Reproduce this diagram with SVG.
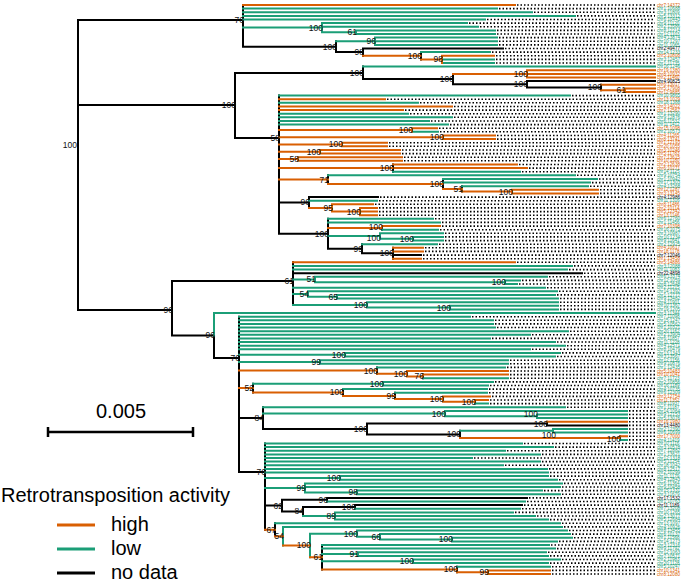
<svg xmlns="http://www.w3.org/2000/svg" width="685" height="582" viewBox="0 0 685 582">
<style>
.t path{fill:none;stroke-width:2;stroke-linecap:square}
.o{stroke:#D95F02}.g{stroke:#1B9E77}.k{stroke:#000}
.d{fill:none;stroke:#000;stroke-width:1.6;stroke-dasharray:1.5 2}
.bs{font-family:"Liberation Sans",Arial,sans-serif;font-size:8.5px;fill:#111;text-anchor:end}
.tip{font-family:"Liberation Sans",Arial,sans-serif;font-size:4.6px}
.lg{font-family:"Liberation Sans",Arial,sans-serif;font-size:20px;fill:#000}
</style>
<rect width="685" height="582" fill="#fff"/>
<g id="leaders">
<path class="d" d="M517 5H655M499 8.6H655M534 12.2H655M577 15.9H655M487 19.5H655M469 23.1H655M480 26.7H655M497 30.4H655M497 34H655M499 37.6H655M499 41.2H655M499 44.9H655M505 48.5H655M492 52.1H655M496 55.7H655M496 59.4H655M496 63H655"/>
<path class="d" d="M572 95.6H655M387 99.2H655M420 102.8H655M454 106.5H655M405 110.1H655M410 113.7H655M454 117.3H655M431 121H655M450 124.6H655M439 128.2H655M440 131.8H655M497 135.5H655M497 139.1H655M389 142.7H655M389 146.3H655M402 150H655M402 153.6H655M404 157.2H655M404 160.8H655M519 164.5H655M529 168.1H655M522 171.7H655M577 175.3H655M599 179H655M592 182.6H655M590 186.2H655M600 189.8H655M600 193.4H655M380 197.1H655M379 200.7H655M375 204.3H655M379 207.9H655M379 211.6H655M379 215.2H655M435 218.8H655M442 222.4H655M442 226.1H655M440 229.7H655M445 233.3H655M445 236.9H655M445 240.6H655M439 244.2H655M425 247.8H655M425 251.4H655M423 255.1H655M423 258.7H655"/>
<path class="d" d="M517 262.3H655M574 265.9H655M569 269.6H655M584 273.2H655M549 276.8H655M522 280.4H655M519 284H655M547 287.7H655M559 291.3H655M557 294.9H655M560 298.5H655M560 302.2H655M560 305.8H655M560 309.4H655"/>
<path class="d" d="M472 316.7H655M495 320.3H655M495 323.9H655M497 327.5H655M570 331.2H655M532 334.8H655M492 338.4H655M557 342H655M567 345.7H655M532 349.3H655M562 352.9H655M557 356.5H655M510 360.2H655M510 363.8H655M507 367.4H655M510 371H655M510 374.6H655M510 378.3H655M495 381.9H655M490 385.5H655M489 389.1H655M489 392.8H655M492 396.4H655M490 400H655M490 403.6H655M567 407.3H655M629 410.9H655M629 414.5H655M629 418.1H655M629 421.8H655M629 425.4H655M629 429H655M629 432.6H655M629 436.3H655M629 439.9H655"/>
<path class="d" d="M524 443.5H655M555 447.1H655M507 450.8H655M542 454.4H655M474 458H655M542 461.6H655M505 465.3H655M549 468.9H655M550 472.5H655M550 476.1H655M559 479.8H655M564 483.4H655M562 487H655M544 490.6H655M562 494.2H655M529 497.9H655M527 501.5H655M524 505.1H655M522 508.7H655M515 512.4H655M537 516H655M550 519.6H655M562 523.2H655M564 526.9H655M569 530.5H655M572 534.1H655M574 537.7H655M559 541.4H655M551 545H655M557 548.6H655M548 552.2H655M550 555.9H655M562 559.5H655M550 563.1H655M552 566.7H655M552 570.4H655M552 574H655"/>
</g>
<g id="connectors" class="t">
<g id="root">
<path class="k" d="M78 20V310M78 20H243M78 105H235M78 310H172"/>
</g>
<g id="clade-top">
<path class="k" d="M243 5V46.7M243 46.7H336M336 41.2V52.1M336 52.1H363M363 48.5V55.7M363 48.5H503M421 52.1V59.4"/>
<path class="g" d="M243 8.6H497M243 12.2H532M243 15.9H575M243 19.5H485M243 27.6H322M322 23.1V32.2M322 23.1H467M322 26.7H478M322 32.2H356M356 30.4V34M356 30.4H495M356 34H495M336 41.2H375M375 37.6V44.9M375 37.6H497M375 41.2H497M375 44.9H497M421 52.1H490M442 59.4H494M442 63H494"/>
<path class="o" d="M243 5H515M363 55.7H421M421 59.4H442M442 55.7V63M442 55.7H494"/>
</g>
<g id="clade-middle">
<path class="k" d="M235 72.9V138M235 72.9H363M363 66.6V79.1M363 79.1H453M453 73.9V84.3M453 84.3H527M527 81.1V87.5M527 81.1H655M527 87.5H601M601 84.7V90.2"/>
<path class="g" d="M363 66.6H655"/>
<path class="o" d="M453 73.9H527M527 70.2V77.5M527 70.2H655M527 73.9H655M527 77.5H655M601 84.7H655M601 90.2H625M625 88.4V92M625 88.4H655M625 92H655"/>
</g>
<g id="clade-58">
<path class="k" d="M235 138H279M279 95.6V233.8M393 164.5V171.7M328 175.3V184M443 179V188.9M462 186.2V191.6M279 202.5H309M309 197.1V208M309 197.1H378M279 233.8H328M328 218.8V248.7M382 226.1V229.7M328 248.7H362M362 244.2V253.3M362 253.3H393M393 247.8V258.7M393 255.1H421"/>
<path class="g" d="M279 95.6H570M279 102.8H418M279 113.7H408M279 117.3H452M279 121H429M279 124.6H448M412 131.8H438M393 171.7H520M328 175.3H575M443 179H597M443 182.6H590M462 186.2H588M309 200.7H377M328 218.8H433M328 222.4H440M382 229.7H438M328 236H380M380 233.3V238.7M380 233.3H443M380 238.7H413M413 236.9V240.6M413 236.9H443M413 240.6H443M362 244.2H437"/>
<path class="o" d="M279 99.2H385M279 106.5H452M279 110.1H403M279 130H412M412 128.2V131.8M412 128.2H437M279 137.3H443M443 135.5V139.1M443 135.5H495M443 139.1H495M279 144.5H342M342 142.7V146.3M342 142.7H387M342 146.3H387M279 151.8H320M320 150V153.6M320 150H400M320 153.6H400M279 159H298M298 157.2V160.8M298 157.2H402M298 160.8H402M279 168.1H393M393 164.5H517M393 168.1H527M279 179.6H328M328 184H443M443 188.9H462M462 191.6H512M512 189.8V193.4M512 189.8H598M512 193.4H598M309 208H332M332 204.3V211.6M332 204.3H373M332 211.6H360M360 207.9V215.2M360 207.9H377M360 211.6H377M360 215.2H377M328 227.9H382M382 226.1H440M393 247.8H423M393 251.4H423M393 258.7H421"/>
</g>
<g id="clade-61">
<path class="k" d="M172 281V335.5M172 281H293M293 262.3V304.9M293 273.2H582M172 335.5H214M214 335.5V358"/>
<path class="g" d="M293 265.9H572M293 269.6H567M293 279.5H315M315 276.8V282.2M315 276.8H547M315 282.2H505M505 280.4V284M505 280.4H520M505 284H517M293 287.7H545M293 294H308M308 291.3V296.7M308 291.3H557M308 296.7H337M337 294.9V298.5M337 294.9H555M337 298.5H558M293 304.9H367M367 302.2V307.6M367 302.2H558M367 307.6H450M450 305.8V309.4M450 305.8H558M450 309.4H558M214 313V335.5M214 313H655"/>
<path class="o" d="M293 262.3H515"/>
</g>
<g id="clade-76a">
<path class="k" d="M214 358H239M239 316.7V472M377 367.4V373.7M423 374.6V378.3M253 383.7V392.5M343 389.1V396M395 392.8V399.1M475 400V403.6M239 418H263M263 407.3V429M263 429H367M367 423.6V434.5M367 423.6H547M547 421.8V425.4M547 425.4H627M367 434.5H460M460 430.8V438.1M620 436.3V439.9"/>
<path class="g" d="M239 316.7H470M239 320.3H493M239 323.9H493M239 327.5H495M239 331.2H568M239 334.8H530M239 338.4H490M239 342H555M239 345.7H565M239 349.3H530M239 354.7H345M345 352.9V356.5M345 352.9H560M345 356.5H555M239 362H320M320 360.2V363.8M320 360.2H508M320 363.8H508M377 367.4H505M423 378.3H508M253 383.7H383M383 381.9V385.5M383 381.9H493M383 385.5H488M343 389.1H487M395 392.8H487M475 403.6H488M263 407.3H565M263 413.6H445M445 410.9V416.3M445 410.9H627M445 416.3H537M537 414.5V418.1M537 414.5H627M537 418.1H627M460 430.8H553M553 429V432.6M553 429H627M553 432.6H627M620 439.9H627"/>
<path class="o" d="M239 370.6H377M377 373.7H407M407 371V376.5M407 371H508M407 376.5H423M423 374.6H508M239 388.1H253M253 392.5H343M343 396H395M395 399.1H443M443 396.4V401.8M443 396.4H490M443 401.8H475M475 400H488M547 421.8H627M460 438.1H620M620 436.3H627"/>
</g>
<g id="clade-76b">
<path class="k" d="M239 472H265M265 443.5V529.7M265 505.6H282M282 499.7V511.5M282 499.7H327M327 497.9V501.5M327 497.9H527M282 511.5H303M303 506.9V516M303 506.9H355M355 505.1V508.7M355 505.1H522M275 523.2V536.2M322 545V569.5M457 566.7V572.2"/>
<path class="g" d="M265 443.5H522M265 447.1H553M265 450.8H505M265 454.4H540M265 458H472M265 461.6H540M265 465.3H503M265 468.9H547M265 472.5H548M265 478H340M340 476.1V479.8M340 476.1H548M340 479.8H557M265 487.9H305M305 483.4V492.4M305 483.4H562M305 487H560M305 492.4H357M357 490.6V494.2M357 490.6H542M357 494.2H560M327 501.5H525M355 508.7H520M303 516H335M335 512.4V519.6M335 512.4H513M335 516H535M335 519.6H548M275 523.2H560M283 526.9V545.5M283 526.9H562M310 533.7V557.3M310 533.7H357M357 530.5V536.8M357 530.5H567M357 536.8H380M380 534.1V539.5M380 534.1H570M380 539.5H452M452 537.7V541.4M452 537.7H572M452 541.4H557M322 545H549M322 548.6H555M322 554H358M358 552.2V555.9M358 552.2H546M358 555.9H548M322 561.3H413M413 559.5V563.1M413 559.5H560M413 563.1H548M457 566.7H550"/>
<path class="o" d="M265 529.7H275M275 536.2H283M283 545.5H310M310 557.3H322M322 569.5H457M457 572.2H488M488 570.4V574M488 570.4H550M488 574H550"/>
</g>
</g>
<g id="support-values" class="bs">
<text x="77" y="148">100</text>
<text x="244" y="23">76</text><text x="323" y="30.5">100</text><text x="357" y="35.1">61</text><text x="337" y="49.6">100</text><text x="376" y="44.1">96</text><text x="364" y="55">98</text><text x="422" y="58.6">100</text><text x="443" y="62.3">98</text>
<text x="236" y="108">100</text><text x="364" y="75.8">100</text><text x="454" y="82">100</text><text x="528" y="76.8">100</text><text x="528" y="87.2">100</text><text x="602" y="90.4">100</text><text x="626" y="93.1">61</text>
<text x="280" y="141">58</text><text x="413" y="132.9">100</text><text x="444" y="140.2">100</text><text x="343" y="147.4">100</text><text x="321" y="154.7">100</text><text x="299" y="161.9">58</text><text x="394" y="171">100</text><text x="329" y="182.5">71</text><text x="444" y="186.9">100</text><text x="463" y="191.8">51</text><text x="513" y="194.5">100</text><text x="310" y="205.4">96</text><text x="333" y="210.9">95</text><text x="361" y="214.5">100</text><text x="329" y="236.7">100</text><text x="383" y="229.8">100</text><text x="381" y="240.6">100</text><text x="414" y="241.6">100</text><text x="363" y="251.6">99</text><text x="394" y="256.2">100</text>
<text x="173" y="313">96</text><text x="294" y="284">61</text><text x="316" y="282.4">51</text><text x="506" y="285.1">100</text><text x="309" y="296.9">54</text><text x="338" y="299.6">65</text><text x="368" y="307.8">100</text><text x="451" y="310.5">100</text>
<text x="215" y="338.4">96</text><text x="240" y="360.9">76</text><text x="346" y="357.6">100</text><text x="321" y="364.9">99</text><text x="378" y="373.5">100</text><text x="408" y="376.6">100</text><text x="424" y="379.4">76</text><text x="254" y="391">52</text><text x="384" y="386.6">100</text><text x="344" y="395.4">100</text><text x="396" y="398.9">99</text><text x="444" y="402">100</text><text x="476" y="404.7">100</text>
<text x="264" y="420.9">84</text><text x="446" y="416.5">100</text><text x="538" y="417.3">100</text><text x="368" y="431.9">100</text><text x="548" y="427.4">100</text><text x="461" y="437.4">100</text><text x="556" y="437.6">100</text><text x="621" y="441.5">100</text>
<text x="266" y="474.9">76</text><text x="341" y="480.9">100</text><text x="306" y="490.8">99</text><text x="358" y="495.3">98</text><text x="283" y="508.5">62</text><text x="328" y="502.6">96</text><text x="304" y="514.4">84</text><text x="356" y="509.8">100</text><text x="336" y="518.9">89</text><text x="276" y="532.6">67</text><text x="284" y="539.1">54</text><text x="311" y="548.4">100</text><text x="358" y="536.6">100</text><text x="381" y="539.7">66</text><text x="453" y="542.4">100</text><text x="323" y="560.2">61</text><text x="359" y="556.9">91</text><text x="414" y="564.2">100</text><text x="458" y="572.4">100</text><text x="489" y="575.1">99</text>
</g>
<g id="tip-labels" class="tip">
<text fill="#D95F02"><tspan x="657" y="6.6">chr7:14372</tspan><tspan x="657" y="57.3">chr5:10808</tspan><tspan x="657" y="71.8">chr19:1380</tspan><tspan x="657" y="75.5">chr8:10932</tspan><tspan x="657" y="79.1">chr2:11460</tspan><tspan x="657" y="86.3">chr6:13017</tspan><tspan x="657" y="90">chr5:17908</tspan><tspan x="657" y="93.6">chr12:9885</tspan><tspan x="657" y="100.8">chr13:1029</tspan><tspan x="657" y="108.1">chr3:14022</tspan><tspan x="657" y="111.7">chr7:12567</tspan><tspan x="657" y="129.8">chr15:1098</tspan><tspan x="657" y="137.1">chr4:11265</tspan><tspan x="657" y="140.7">chr8:13741</tspan><tspan x="657" y="144.3">chr1:12193</tspan><tspan x="657" y="147.9">chr20:1055</tspan><tspan x="657" y="151.6">chr3:10246</tspan><tspan x="657" y="155.2">chr5:11783</tspan><tspan x="657" y="158.8">chr7:13615</tspan><tspan x="657" y="162.4">chr10:1180</tspan><tspan x="657" y="166.1">chr2:12638</tspan><tspan x="657" y="169.7">chr6:10271</tspan><tspan x="657" y="191.4">chr12:1287</tspan><tspan x="657" y="195">chr3:13145</tspan><tspan x="657" y="205.9">chr8:11486</tspan><tspan x="657" y="209.5">chr2:10114</tspan><tspan x="657" y="213.2">chr5:12342</tspan><tspan x="657" y="216.8">chr13:1146</tspan><tspan x="657" y="227.7">chr7:10398</tspan><tspan x="657" y="249.4">chr4:10617</tspan><tspan x="657" y="253">chr18:1178</tspan><tspan x="657" y="260.3">chr1:13458</tspan><tspan x="657" y="263.9">chr5:14886</tspan><tspan x="657" y="372.6">chr5:10483</tspan><tspan x="657" y="376.2">chr10:1041</tspan><tspan x="657" y="398">chr3:12754</tspan><tspan x="657" y="401.6">chr11:1352</tspan><tspan x="657" y="423.4">chr16:1980</tspan><tspan x="657" y="437.9">chr17:7000</tspan><tspan x="657" y="572">chr10:1341</tspan><tspan x="657" y="575.6">chr8:12080</tspan></text>
<text fill="#000"><tspan x="657" y="50.1">chr2:49477</tspan><tspan x="657" y="82.7">chr4:90825</tspan><tspan x="657" y="198.7">chr4:12986</tspan><tspan x="657" y="256.7">chr7:12046</tspan><tspan x="657" y="274.8">chr22:4898</tspan><tspan x="657" y="427">chr13:4480</tspan><tspan x="657" y="499.5">chr17:1532</tspan><tspan x="657" y="506.7">chr11:1189</tspan></text>
<text fill="#1B9E77"><tspan x="657" y="10.2">chr1:10688</tspan><tspan x="657" y="13.8">chr3:11809</tspan><tspan x="657" y="17.5">chr5:13312</tspan><tspan x="657" y="21.1">chr6:10443</tspan><tspan x="657" y="24.7">chr9:11120</tspan><tspan x="657" y="28.3">chr2:13586</tspan><tspan x="657" y="32">chr8:12214</tspan><tspan x="657" y="35.6">chr12:1103</tspan><tspan x="657" y="39.2">chr4:13874</tspan><tspan x="657" y="42.8">chr10:1297</tspan><tspan x="657" y="46.5">chr11:1065</tspan><tspan x="657" y="53.7">chr14:1233</tspan><tspan x="657" y="61">chr3:12457</tspan><tspan x="657" y="64.6">chr1:11735</tspan><tspan x="657" y="68.2">chr16:1246</tspan><tspan x="657" y="97.2">chr10:9865</tspan><tspan x="657" y="104.4">chr18:1388</tspan><tspan x="657" y="115.3">chr1:13290</tspan><tspan x="657" y="118.9">chr9:12876</tspan><tspan x="657" y="122.6">chr6:11532</tspan><tspan x="657" y="126.2">chr11:1412</tspan><tspan x="657" y="133.4">chr2:10573</tspan><tspan x="657" y="173.3">chr14:1125</tspan><tspan x="657" y="176.9">chr9:10754</tspan><tspan x="657" y="180.6">chr1:10942</tspan><tspan x="657" y="184.2">chr17:1303</tspan><tspan x="657" y="187.8">chr4:13268</tspan><tspan x="657" y="202.3">chr11:1316</tspan><tspan x="657" y="220.4">chr6:12760</tspan><tspan x="657" y="224">chr1:11456</tspan><tspan x="657" y="231.3">chr16:1075</tspan><tspan x="657" y="234.9">chr3:10987</tspan><tspan x="657" y="238.5">chr10:1234</tspan><tspan x="657" y="242.2">chr9:11641</tspan><tspan x="657" y="245.8">chr2:12925</tspan><tspan x="657" y="267.5">chr3:12088</tspan><tspan x="657" y="271.2">chr11:1083</tspan><tspan x="657" y="278.4">chr6:13374</tspan><tspan x="657" y="282">chr12:1059</tspan><tspan x="657" y="285.6">chr8:12648</tspan><tspan x="657" y="289.3">chr2:11215</tspan><tspan x="657" y="292.9">chr14:1392</tspan><tspan x="657" y="296.5">chr1:12777</tspan><tspan x="657" y="300.1">chr9:13482</tspan><tspan x="657" y="303.8">chr4:11901</tspan><tspan x="657" y="307.4">chr10:1367</tspan><tspan x="657" y="311">chr19:1205</tspan><tspan x="657" y="314.6">chr3:11344</tspan><tspan x="657" y="318.3">chr7:11098</tspan><tspan x="657" y="321.9">chr15:1247</tspan><tspan x="657" y="325.5">chr5:10562</tspan><tspan x="657" y="329.1">chr1:10321</tspan><tspan x="657" y="332.8">chr20:1162</tspan><tspan x="657" y="336.4">chr2:13904</tspan><tspan x="657" y="340">chr6:11857</tspan><tspan x="657" y="343.6">chr11:1228</tspan><tspan x="657" y="347.3">chr4:12571</tspan><tspan x="657" y="350.9">chr8:10479</tspan><tspan x="657" y="354.5">chr13:1343</tspan><tspan x="657" y="358.1">chr3:13567</tspan><tspan x="657" y="361.8">chr12:1156</tspan><tspan x="657" y="365.4">chr9:10876</tspan><tspan x="657" y="369">chr1:12435</tspan><tspan x="657" y="379.9">chr7:11723</tspan><tspan x="657" y="383.5">chr2:10856</tspan><tspan x="657" y="387.1">chr16:1189</tspan><tspan x="657" y="390.7">chr4:10735</tspan><tspan x="657" y="394.4">chr6:12309</tspan><tspan x="657" y="405.2">chr8:11937</tspan><tspan x="657" y="408.9">chr1:11187</tspan><tspan x="657" y="412.5">chr14:1064</tspan><tspan x="657" y="416.1">chr9:12153</tspan><tspan x="657" y="419.7">chr5:13076</tspan><tspan x="657" y="430.6">chr2:12390</tspan><tspan x="657" y="434.2">chr6:10699</tspan><tspan x="657" y="441.5">chr4:11419</tspan><tspan x="657" y="445.1">chr10:1116</tspan><tspan x="657" y="448.7">chr3:10578</tspan><tspan x="657" y="452.4">chr7:12882</tspan><tspan x="657" y="456">chr1:13621</tspan><tspan x="657" y="459.6">chr12:1318</tspan><tspan x="657" y="463.2">chr5:11254</tspan><tspan x="657" y="466.9">chr18:1042</tspan><tspan x="657" y="470.5">chr8:12517</tspan><tspan x="657" y="474.1">chr2:10299</tspan><tspan x="657" y="477.7">chr11:1179</tspan><tspan x="657" y="481.4">chr4:12843</tspan><tspan x="657" y="485">chr6:11364</tspan><tspan x="657" y="488.6">chr9:10458</tspan><tspan x="657" y="492.2">chr15:1331</tspan><tspan x="657" y="495.8">chr3:11679</tspan><tspan x="657" y="503.1">chr1:10763</tspan><tspan x="657" y="510.3">chr7:13208</tspan><tspan x="657" y="514">chr10:1265</tspan><tspan x="657" y="517.6">chr2:13077</tspan><tspan x="657" y="521.2">chr5:12684</tspan><tspan x="657" y="524.8">chr13:1097</tspan><tspan x="657" y="528.5">chr4:10926</tspan><tspan x="657" y="532.1">chr8:13455</tspan><tspan x="657" y="535.7">chr6:10137</tspan><tspan x="657" y="539.3">chr1:11568</tspan><tspan x="657" y="543">chr14:1273</tspan><tspan x="657" y="546.6">chr3:12316</tspan><tspan x="657" y="550.2">chr9:11792</tspan><tspan x="657" y="553.8">chr12:1063</tspan><tspan x="657" y="557.5">chr7:10571</tspan><tspan x="657" y="561.1">chr2:11983</tspan><tspan x="657" y="564.7">chr20:1128</tspan><tspan x="657" y="568.3">chr5:10247</tspan></text>
</g>
<g id="scale-bar">
<path d="M48 432H193M48 427V437M193 427V437" fill="none" stroke="#000" stroke-width="2.5"/>
<text class="lg" x="121" y="418" text-anchor="middle" font-size="19">0.005</text>
</g>
<g id="legend">
<text class="lg" x="1" y="502">Retrotransposition activity</text>
<path d="M57 525H95" stroke="#D95F02" stroke-width="3"/>
<path d="M57 549H95" stroke="#1B9E77" stroke-width="3"/>
<path d="M57 573H95" stroke="#000" stroke-width="3"/>
<text class="lg" x="111" y="531">high</text>
<text class="lg" x="111" y="555">low</text>
<text class="lg" x="111" y="579">no data</text>
</g>
</svg>
